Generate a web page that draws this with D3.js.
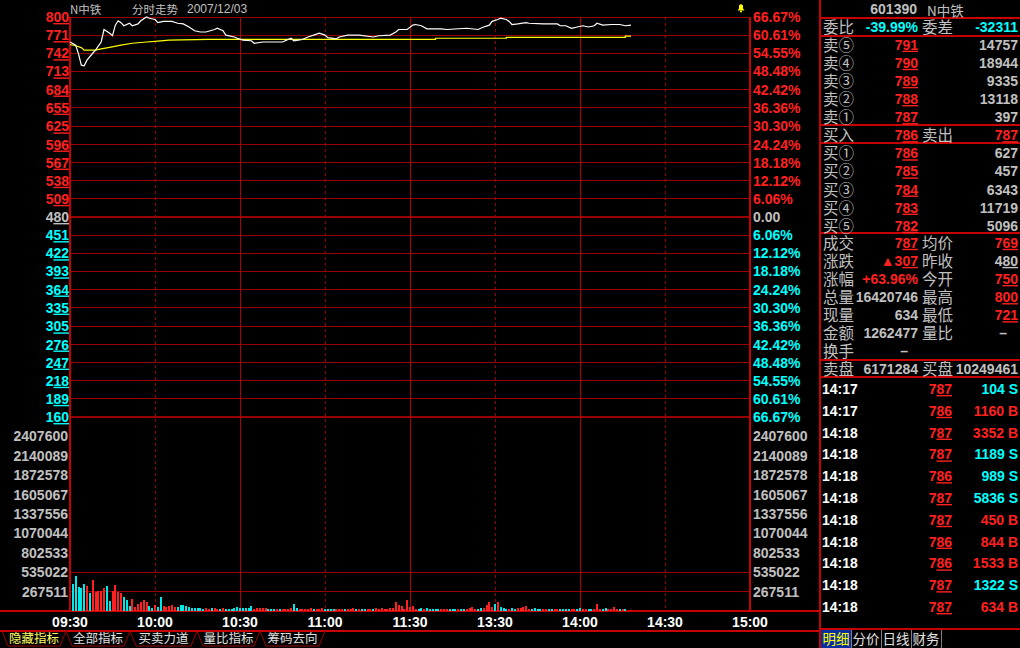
<!DOCTYPE html>
<html><head><meta charset="utf-8">
<script src="https://cdn.jsdelivr.net/npm/d3@7"></script>
<style>
html,body{margin:0;padding:0;background:#000;overflow:hidden}
svg{display:block}
</style></head><body>
<svg id="c" width="1020" height="648"></svg>
<script>
// ---------------- DATA ----------------
const stockName = "N中铁";
const stockCode = "601390";
const chartTitle = "分时走势";
const chartDate = "2007/12/03";
const prevClose = 480;

const priceTicks = [800,771,742,713,684,655,625,596,567,538,509,480,451,422,393,364,335,305,276,247,218,189,160];
const pctTicks = ["66.67%","60.61%","54.55%","48.48%","42.42%","36.36%","30.30%","24.24%","18.18%","12.12%","6.06%","0.00",
                  "6.06%","12.12%","18.18%","24.24%","30.30%","36.36%","42.42%","48.48%","54.55%","60.61%","66.67%"];
const volUnit = 267511;
const volTicks = ["2407600","2140089","1872578","1605067","1337556","1070044","802533","535022","267511"];

const timeLabels = ["09:30","10:00","10:30","11:00","11:30","13:30","14:00","14:30","15:00"];
const timeLabelMinutes = [0,30,60,90,120,150,180,210,240];

// price line (minute index from 09:30, price)
const priceMinutes = [0,2,3,4,5,6,8,9,11,12,14,15,16,17,18,19,21,22,24,25,27,28,30,31,33,36,38,40,42,44,46,48,51,52,54,55,58,59,61,64,65,68,71,75,78,79,82,84,86,88,90,91,94,95,98,102,107,109,113,115,116,119,121,122,124,126,131,133,140,144,146,148,149,151,152,154,155,156,158,161,162,167,172,173,175,177,179,181,183,185,186,188,191,194,196,198];
const priceValues  = [760,755,741,723,722,731,742,747,760,780,774,770,787,794,791,786,790,786,789,794,800,798,796,791,793,793,790,789,784,778,776,776,780,782,778,771,768,766,763,762,758,760,760,760,766,762,764,768,771,774,771,767,765,768,771,771,768,770,771,776,780,780,787,788,786,781,781,780,782,780,784,787,793,796,798,796,793,788,789,791,790,789,789,786,786,782,784,786,784,786,790,787,788,788,786,787];

// average price line
const avgMinutes = [0,2,4,5,9,11,14,18,22,27,31,35,49,129,129,154,154,196,196,198];
const avgValues  = [756,754,751,747,747,749,751.5,755,758,760,761.5,763,764.3,764.3,766,766,767.5,767.5,769.5,769.5];

// volume per minute (minute 1..196), shares
const volValues = [372000,489000,335000,312000,372000,344000,242000,428000,265000,275000,275000,312000,344000,140000,279000,358000,256000,242000,195000,158000,
65000,172000,56000,102000,126000,158000,126000,65000,46000,79000,56000,195000,65000,56000,65000,79000,56000,56000,79000,79000,
65000,56000,46000,40000,40000,46000,30000,40000,30000,35000,46000,30000,25000,40000,25000,20000,30000,35000,56000,40000,
46000,35000,40000,65000,25000,40000,40000,46000,35000,25000,30000,20000,20000,25000,20000,25000,30000,40000,93000,35000,
25000,30000,25000,30000,35000,20000,25000,20000,40000,25000,25000,20000,20000,25000,20000,30000,25000,20000,30000,35000,
25000,30000,25000,20000,25000,30000,25000,35000,30000,35000,25000,30000,35000,40000,126000,88000,65000,30000,150000,56000,
65000,30000,25000,40000,25000,40000,25000,25000,25000,25000,25000,25000,25000,25000,25000,25000,25000,25000,25000,20000,
40000,56000,30000,25000,40000,40000,79000,126000,56000,102000,126000,56000,40000,30000,30000,40000,30000,40000,40000,56000,
70000,30000,25000,40000,25000,20000,20000,20000,20000,25000,20000,15000,15000,20000,20000,25000,25000,20000,25000,40000,
25000,10000,10000,10000,20000,93000,30000,20000,40000,10000,20000,56000,20000,25000,10000,25000];
const volDir = ("CCCCCRCRRR" + "RRCCRRRRCC" + "CRRRRRRCCR" + "CCRRRRRCCC" + "CCCCCCCRRC" +
                "RRCRCCCCCC" + "CCCCRRRRRC" + "CCRCRRRRCC" + "RRRRRCRRRC" + "CCCRRRCRRR" +
                "CRCCRRCRRR" + "RRRRRRRRRR" + "RRCCRCCCCC" + "RRRCCCRCCR" + "RRRCCRRRRC" +
                "RCCCRCCRRR" + "RRCCCCRRCC" + "RRCCCCRRCC" + "RRCCRRRCCR" + "RRRCRC").split("");

// order book / quote panel
const askLabels = ["卖⑤","卖④","卖③","卖②","卖①"];
const askPrices = [791,790,789,788,787];
const askVols   = [14757,18944,9335,13118,397];
const bidLabels = ["买①","买②","买③","买④","买⑤"];
const bidPrices = [786,785,784,783,782];
const bidVols   = [627,457,6343,11719,5096];
const weiBi = "-39.99%", weiCha = "-32311";
const buyInPrice = 786, sellOutPrice = 787;
const lastPrice = 787, avgPrice = 769, changeAmt = 307, changePct = "+63.96%";
const openPrice = 750, highPrice = 800, lowPrice = 721;
const totalVol = 16420746, curVol = 634, amount = 1262477;
const outerVol = 6171284, innerVol = 10249461;

const tradeTimes  = ["14:17","14:17","14:18","14:18","14:18","14:18","14:18","14:18","14:18","14:18","14:18"];
const tradePrices = [787,786,787,787,786,787,787,786,786,787,787];
const tradeVols   = [104,1160,3352,1189,989,5836,450,844,1533,1322,634];
const tradeSides  = ["S","B","B","S","S","S","B","B","B","S","B"];

const panelTabs = ["明细","分价","日线","财务"];
const indicatorTabs = ["隐藏指标","全部指标","买卖力道","量比指标","筹码去向"];

// ---------------- DRAW ----------------
const RED = "#ff2020", CYAN = "#00ffff", GRAY = "#c0c0c0", WHITE = "#ffffff", YEL = "#ffff00";
const GRID = "#980000", BORDER = "#c80000";
const NUMF = "'Liberation Sans', Arial, sans-serif";
const CJKF = "'Noto Sans CJK SC', 'Noto Sans', sans-serif";

const svg = d3.select("#c");
svg.append("rect").attr("width",1020).attr("height",648).attr("fill","#000");

const L = 70, R = 750, T = 17, MID = 417, VB = 611;
const x  = d3.scaleLinear().domain([0,240]).range([L,R]);
const yP = d3.scaleLinear().domain([160,800]).range([MID,T]);
const yV = d3.scaleLinear().domain([0,volUnit*10]).range([VB,MID]);

const colorOf = p => p > prevClose ? RED : (p < prevClose ? CYAN : GRAY);

function numText(g, xx, yy, str, color, anchor, ul, size, weight) {
  const t = g.append("text").attr("x",xx).attr("y",yy).attr("fill",color)
    .attr("text-anchor",anchor).attr("font-family",NUMF)
    .attr("font-weight",weight||"bold").attr("font-size",size||14);
  if (ul > 0) {
    t.append("tspan").text(str.slice(0,str.length-ul));
    t.append("tspan").style("text-decoration","underline").text(str.slice(-ul));
  } else t.text(str);
  return t;
}
function cjkText(g, xx, yy, str, color, size, anchor) {
  return g.append("text").attr("x",xx).attr("y",yy).attr("fill",color)
    .attr("text-anchor",anchor||"start").attr("font-family",CJKF)
    .attr("font-size",size||15.5).text(str);
}

const grid = svg.append("g").attr("shape-rendering","crispEdges");

// price horizontal grid
priceTicks.forEach(v => {
  const w = (v === prevClose || v === 160) ? 2.5 : 1;
  grid.append("line").attr("x1",L).attr("x2",R).attr("y1",yP(v)).attr("y2",yP(v))
    .attr("stroke",GRID).attr("stroke-width",w);
});
// volume grid (lower two levels)
[1,2].forEach(k => {
  grid.append("line").attr("x1",L).attr("x2",R).attr("y1",yV(k*volUnit)).attr("y2",yV(k*volUnit))
    .attr("stroke",GRID).attr("stroke-width",1);
});
// vertical grid
[30,90,150,210].forEach(m => {
  grid.append("line").attr("x1",x(m)).attr("x2",x(m)).attr("y1",T).attr("y2",VB)
    .attr("stroke",GRID).attr("stroke-dasharray","3,3");
});
[60,120,180].forEach(m => {
  grid.append("line").attr("x1",x(m)).attr("x2",x(m)).attr("y1",T).attr("y2",VB).attr("stroke","#b00000");
});
[0,240].forEach(m => {
  grid.append("line").attr("x1",x(m)).attr("x2",x(m)).attr("y1",T).attr("y2",VB).attr("stroke",BORDER).attr("stroke-width",1.5);
});
grid.append("line").attr("x1",0).attr("x2",820).attr("y1",VB).attr("y2",VB).attr("stroke",BORDER).attr("stroke-width",2);
grid.append("line").attr("x1",0).attr("x2",820).attr("y1",630.5).attr("y2",630.5).attr("stroke",BORDER).attr("stroke-width",2);

// title
svg.append("text").attr("x",70).attr("y",13.5).attr("fill",GRAY).attr("font-family",CJKF).attr("font-size",11.5).text(stockName);
svg.append("text").attr("x",132).attr("y",13.5).attr("fill",GRAY).attr("font-family",CJKF).attr("font-size",11.5).text(chartTitle);
svg.append("text").attr("x",187).attr("y",13).attr("fill",GRAY).attr("font-family",NUMF).attr("font-size",12).text(chartDate);
// bell
svg.append("path").attr("d","M737.5,10.5 L744.5,10.5 L743,8.5 L743,5.5 Q741,3 739,5.5 L739,8.5 Z").attr("fill",YEL);
svg.append("circle").attr("cx",741).attr("cy",11.5).attr("r",1).attr("fill",YEL);

// axis labels
const axg = svg.append("g");
priceTicks.forEach((v,i) => {
  numText(axg, 69, yP(v)+5, String(v), colorOf(v), "end", 2);
  const c = i < 11 ? RED : (i === 11 ? GRAY : CYAN);
  numText(axg, 753, yP(v)+5, pctTicks[i], c, "start", 0);
});
volTicks.forEach((s,i) => {
  const k = 9 - i;
  numText(axg, 68, yV(k*volUnit)+5, s, GRAY, "end", 0);
  numText(axg, 753, yV(k*volUnit)+5, s, GRAY, "start", 0);
});
timeLabels.forEach((s,i) => {
  numText(axg, x(timeLabelMinutes[i]), 627, s, WHITE, "middle", 0);
});

// volume bars
svg.append("g").attr("shape-rendering","crispEdges").selectAll("rect").data(volValues).join("rect")
  .attr("x",(d,i) => x(i+1)-1).attr("width",2)
  .attr("y",d => Math.min(yV(d), VB-2)).attr("height",d => Math.max(VB - yV(d), 2) - 0.5)
  .attr("fill",(d,i) => volDir[i] === "R" ? "#ff2020" : "#00e8e8");

// lines
const avgLine = d3.line().x(i => x(avgMinutes[i])).y(i => yP(avgValues[i]));
svg.append("path").attr("d",avgLine(d3.range(avgMinutes.length))).attr("fill","none")
  .attr("stroke",YEL).attr("stroke-width",1.2);
const priceLine = d3.line().x(i => x(priceMinutes[i])).y(i => yP(priceValues[i]));
svg.append("path").attr("d",priceLine(d3.range(priceMinutes.length))).attr("fill","none")
  .attr("stroke",WHITE).attr("stroke-width",1.2);

// bottom indicator tabs
const tabB = [2,66,130,197,260,325];
const tg = svg.append("g");
indicatorTabs.forEach((s,i) => {
  const a = tabB[i], b = tabB[i+1];
  tg.append("path").attr("d",`M${a},631 L${a+6},646 L${b-6},646 L${b},631`)
    .attr("fill","none").attr("stroke",GRID).attr("stroke-width",1);
  cjkText(tg, (a+b)/2, 643, s, i === 0 ? "#ffff60" : "#e0e0e0", 12.5, "middle");
});

// ---------------- RIGHT PANEL ----------------
const P = svg.append("g");
const pl = P.append("g").attr("shape-rendering","crispEdges");
pl.append("line").attr("x1",819.5).attr("x2",819.5).attr("y1",0).attr("y2",648).attr("stroke",BORDER).attr("stroke-width",2);
[17.5,35.5,125,143,233,359.5,377,628.5].forEach(yy => {
  pl.append("line").attr("x1",820).attr("x2",1020).attr("y1",yy).attr("y2",yy).attr("stroke",BORDER).attr("stroke-width",2);
});

const LX = 823, V1 = 918, LX2 = 922, V2 = 1018;
numText(P, 917, 14, stockCode, GRAY, "end", 0);
P.append("text").attr("x",927).attr("y",16).attr("fill",GRAY).attr("font-family",CJKF).attr("font-size",13.5).text(stockName);

// 委比 row
cjkText(P, LX, 33, "委比", GRAY);
numText(P, V1, 32, weiBi, CYAN, "end", 0);
cjkText(P, LX2, 33, "委差", GRAY);
numText(P, V2, 32, weiCha, CYAN, "end", 0);

const rowY = k => 44.7 + 18.1*k;
askLabels.forEach((s,i) => {
  const cy = rowY(i);
  cjkText(P, LX, cy+6, s, GRAY);
  numText(P, V1, cy+5, String(askPrices[i]), colorOf(askPrices[i]), "end", 2);
  numText(P, V2, cy+5, String(askVols[i]), GRAY, "end", 0);
});
{
  const cy = rowY(5);
  cjkText(P, LX, cy+6, "买入", GRAY);
  numText(P, V1, cy+5, String(buyInPrice), colorOf(buyInPrice), "end", 2);
  cjkText(P, LX2, cy+6, "卖出", GRAY);
  numText(P, V2, cy+5, String(sellOutPrice), colorOf(sellOutPrice), "end", 2);
}
bidLabels.forEach((s,i) => {
  const cy = rowY(6+i);
  cjkText(P, LX, cy+6, s, GRAY);
  numText(P, V1, cy+5, String(bidPrices[i]), colorOf(bidPrices[i]), "end", 2);
  numText(P, V2, cy+5, String(bidVols[i]), GRAY, "end", 0);
});

const statY = k => 242.8 + 18.1*k;
const stats = [
  ["成交", String(lastPrice), colorOf(lastPrice), 2, "均价", String(avgPrice), colorOf(avgPrice), 2],
  ["涨跌", "▲" + changeAmt, RED, 2, "昨收", String(prevClose), GRAY, 2],
  ["涨幅", changePct, RED, 0, "今开", String(openPrice), colorOf(openPrice), 2],
  ["总量", String(totalVol), GRAY, 0, "最高", String(highPrice), colorOf(highPrice), 2],
  ["现量", String(curVol), GRAY, 0, "最低", String(lowPrice), colorOf(lowPrice), 2],
  ["金额", String(amount), GRAY, 0, "量比", "–", GRAY, 0],
  ["换手", "–", GRAY, 0, null]
];
stats.forEach((r,k) => {
  const cy = statY(k);
  cjkText(P, LX, cy+6, r[0], GRAY);
  if (r[1] === "–") numText(P, 908, cy+5, r[1], GRAY, "end", 0);
  else numText(P, V1, cy+5, r[1], r[2], "end", r[3]);
  if (r[4]) {
    cjkText(P, LX2, cy+6, r[4], GRAY);
    if (r[5] === "–") numText(P, 1007, cy+5, r[5], GRAY, "end", 0);
    else numText(P, V2, cy+5, r[5], r[6], "end", r[7]);
  }
});
{
  const cy = 368.5;
  cjkText(P, LX, cy+6, "卖盘", GRAY);
  numText(P, V1, cy+5, String(outerVol), GRAY, "end", 0);
  cjkText(P, LX2, cy+6, "买盘", GRAY);
  numText(P, V2, cy+5, String(innerVol), GRAY, "end", 0);
}

// trade details
tradeTimes.forEach((t,i) => {
  const cy = 389 + 21.8*i;
  numText(P, 822, cy+5, t, WHITE, "start", 0);
  numText(P, 952, cy+5, String(tradePrices[i]), colorOf(tradePrices[i]), "end", 2);
  numText(P, V2, cy+5, tradeVols[i] + " " + tradeSides[i], tradeSides[i] === "B" ? RED : CYAN, "end", 0);
});

// panel tabs
const ptx = [821,851,881,911,941];
panelTabs.forEach((s,i) => {
  if (i === 0) P.append("rect").attr("x",ptx[0]).attr("y",630).attr("width",ptx[1]-ptx[0]).attr("height",18).attr("fill","#0a2ea0");
  P.append("line").attr("x1",ptx[i+1]+0.5).attr("x2",ptx[i+1]+0.5).attr("y1",630).attr("y2",648).attr("stroke","#808080");
  cjkText(P, (ptx[i]+ptx[i+1])/2, 643.5, s, i === 0 ? YEL : "#e0e0e0", 13.5, "middle");
});
</script>
</body></html>
